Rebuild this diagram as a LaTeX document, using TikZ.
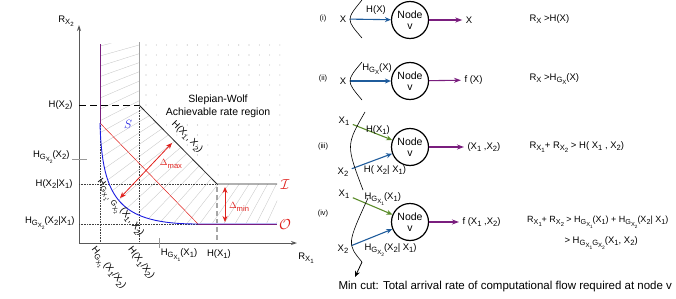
\documentclass[tikz,border=0pt]{standalone}
\usepackage{fontspec}
\setmainfont{Liberation Sans}
\usepackage{amsmath}
\usetikzlibrary{arrows.meta}
\definecolor{flowblue}{HTML}{1F5C9C}
\definecolor{flowgreen}{HTML}{5B8C2A}
\definecolor{flowpurple}{HTML}{7A1E7E}
\definecolor{deltared}{HTML}{E0201C}
\definecolor{curveblue}{HTML}{1C1CE0}
\newcommand{\sbs}[1]{\raisebox{-.5ex}{\scalebox{.8}{#1}}}

\begin{document}
\begin{tikzpicture}[x=1pt,y=1pt,font=\fontsize{9.5}{10}\selectfont,
  axis/.style={line width=1pt,black!65,-{Stealth[length=6pt,width=4pt]}},
  guide/.style={black!75,densely dotted,line width=.6pt},
  hatch/.style={gray!45,line width=.35pt},
  delta/.style={deltared,line width=.8pt,{Stealth[length=6pt,width=5pt]}-{Stealth[length=6pt,width=5pt]}},
  cnode/.style={draw,circle,line width=1.2pt,minimum size=37pt,inner sep=0pt,
               align=center,font=\fontsize{10.5}{11.5}\selectfont},
  inarrow/.style={line width=1.1pt,-{Stealth[length=6pt,width=5pt]}},
  outarrow/.style={flowpurple,line width=1.1pt,-{Stealth[length=7pt,width=5pt]}},
  mincut/.style={line width=.6pt}]
  \useasboundingbox (0,0) rectangle (676,298);
  % rate region
  \coordinate (o) at (79,55);
  \coordinate (ytop) at (79,273);
  \coordinate (xend) at (297,55);
  \coordinate (sw) at (139,193);
  \coordinate (corner) at (217,114);
  \coordinate (iend) at (277,114);
  \coordinate (cstart) at (100,175);
  \coordinate (cend) at (198,74);
  \coordinate (oend) at (277,74);
  \begin{scope}
    \clip (100,254) -- (139,256) -- (sw) -- (corner) -- (iend) -- (oend) -- (cend)
      .. controls (120,74) and (102,98) .. (cstart) -- cycle;
    \foreach \a in {190,191.9,...,254} \draw[hatch] (381,321) -- ++(\a:520);
  \end{scope}
  \begin{scope}
    \clip (139,258) -- (282,258) -- (282,117) -- (219,117) -- (139,196) -- cycle;
    \foreach \i in {0,...,13} \foreach \j in {0,...,13}
      \fill[gray!60] (146+10.3*\i,253-10*\j) circle (.55);
  \end{scope}
  \draw[axis] (o) -- (ytop);
  \draw[axis] (o) -- (xend);
  \node (rx2) at (66,277) {R\sbs{X\sbs{2}}};
  \node (rx1) at (306,40) {R\sbs{X\sbs{1}}};
  \draw[guide] (100,175) -- (100,55);
  \draw[guide] (139,193) -- (139,55);
  \draw[guide] (79,114) -- (corner);
  \draw[guide] (79,74) -- (cend);
  \draw[black,dashed,dash pattern=on 7pt off 4pt,line width=.8pt] (79,193) -- (sw);
  \draw[gray!75,line width=1pt] (139,256) -- (sw);
  \draw[black!85,line width=.8pt] (sw) -- (corner) -- (iend);
  \draw[gray!70,dashed,dash pattern=on 5pt off 3pt,line width=1.3pt] (217,111) -- (217,57);
  \draw[gray!80,line width=.8pt] (159,50) -- (159,60);
  \draw[gray!80,line width=.8pt] (72,139) -- (87,139);
  \draw[deltared,line width=.5pt] (cstart) -- (cend);
  \draw[flowpurple,line width=.9pt] (100,254) -- (cstart);
  \draw[curveblue,line width=.9pt] (cstart) .. controls (102,98) and (120,74) .. (cend);
  \draw[curveblue!30,line width=2pt] (cend) -- (oend);
  \draw[flowpurple,line width=.9pt] (cend) -- (oend);
  \coordinate (dmaxa) at (120,100);
  \coordinate (dmaxb) at (172,155);
  \draw[delta] (dmaxa) -- (dmaxb);
  \coordinate (dmina) at (225,111);
  \coordinate (dminb) at (225,76);
  \draw[delta] (dmina) -- (dminb);
  \node[deltared] (dmax) at (171,134) {$\Delta$\sbs{max}};
  \node[deltared] (dmin) at (239,91) {$\Delta$\sbs{min}};
  \node[curveblue,font=\fontsize{13}{13}\selectfont] (s) at (128,174) {$S$};
  \node[deltared,font=\fontsize{14}{14}\selectfont] (ilab) at (285,113) {$\mathcal{I}$};
  \node[deltared,font=\fontsize{14}{14}\selectfont] (olab) at (285,73) {$\mathcal{O}$};
  \node[fill=white,inner sep=1pt,align=center,font=\fontsize{10.5}{13}\selectfont]
    (sw-text) at (218,192) {Slepian-Wolf\\Achievable rate region};
  \node[rotate=-45] (hx1x2) at (187,161) {H(X\sbs{1}, X\sbs{2})};
  \node[anchor=east] (hx2) at (76,193) {H(X\sbs{2})};
  \node[anchor=east] (hgx2) at (73,141) {H\sbs{G\sbs{X\sbs{2}}}(X\sbs{2})};
  \node[anchor=east] (hx2x1) at (76,114) {H(X\sbs{2}|X\sbs{1})};
  \node[anchor=east] (hgx2x1) at (78,75) {H\sbs{G\sbs{X\sbs{2}}}(X\sbs{2}|X\sbs{1})};
  \node[rotate=-52] (hgx1x1x2) at (107,29) {H\sbs{G\sbs{X\sbs{1}}}(X\sbs{1}/X\sbs{2})};
  \node[rotate=-52] (hx1x2c) at (141,35) {H(X\sbs{1}/X\sbs{2})};
  \node (hgx1) at (179,43) {H\sbs{G\sbs{X\sbs{1}}}(X\sbs{1})};
  \node (hx1) at (219,44) {H(X\sbs{1})};
  \node[rotate=-52] (hgg) at (119,89) {H\sbs{G\sbs{X\sbs{1}}, G\sbs{X\sbs{2}}}(X\sbs{1}, X\sbs{2})};
  % (i)
  \node (c1) at (323,279) {\fontsize{7.5}{8}\selectfont(i)};
  \node[cnode] (v1) at (410,278) {Node\\v};
  \node (in1) at (343,279) {X};
  \node (out1) at (469,278) {X};
  \draw[inarrow,flowblue] (in1) -- (v1);
  \draw[outarrow] (v1) -- (out1);
  \node (l1) at (376,288) {H(X)};
  \draw[mincut] (362,298) .. controls (346,278.5) .. (362,260);
  \node[anchor=west] (r1) at (526,279) {R\sbs{X} >H(X)};
  % (ii)
  \node (c2) at (323,219) {\fontsize{7.5}{8}\selectfont(ii)};
  \node[cnode] (v2) at (410,217) {Node\\v};
  \node (in2) at (343,217) {X};
  \node[anchor=west] (out2) at (461,218) {f (X)};
  \draw[inarrow,flowblue] (in2) -- (v2);
  \draw[outarrow] (v2) -- (out2);
  \node (l2) at (377,229) {H\sbs{G\sbs{X}}(X)};
  \draw[mincut] (362,236) .. controls (346,217) .. (362,198);
  \node[anchor=west] (r2) at (526,219) {R\sbs{X} >H\sbs{G\sbs{X}}(X)};
  % (iii)
  \node (c3) at (323,151) {\fontsize{7.5}{8}\selectfont(iii)};
  \node[cnode] (v3) at (410,151) {Node\\v};
  \node (in3a) at (344,177) {X\sbs{1}};
  \node (in3b) at (343,126) {X\sbs{2}};
  \node[anchor=west] (out3) at (464,151) {(X\sbs{1} ,X\sbs{2})};
  \draw[inarrow,flowgreen] (in3a) -- (v3);
  \draw[inarrow,flowblue] (in3b) -- (v3);
  \draw[outarrow] (v3) -- (out3);
  \node (l3a) at (378,168) {H(X\sbs{1})};
  \node (l3b) at (385,128) {H( X\sbs{2}| X\sbs{1})};
  \draw[mincut] (365,186) .. controls (346,153) .. (363,108);
  \node[anchor=west] (r3) at (526,151) {R\sbs{X\sbs{1}}+ R\sbs{X\sbs{2}} > H( X\sbs{1} , X\sbs{2})};
  % (iv)
  \node (c4) at (323,84) {\fontsize{7.5}{8}\selectfont(iv)};
  \node[cnode] (v4) at (410,76) {Node\\v};
  \node (in4a) at (344,104) {X\sbs{1}};
  \node (in4b) at (343,49) {X\sbs{2}};
  \node[anchor=west] (out4) at (459,76) {f (X\sbs{1} ,X\sbs{2})};
  \draw[inarrow,flowgreen] (in4a) -- (v4);
  \draw[inarrow,flowblue] (in4b) -- (v4);
  \draw[outarrow] (v4) -- (out4);
  \node[anchor=west] (l4a) at (361,99) {H\sbs{G\sbs{X\sbs{1}}}(X\sbs{1})};
  \node[anchor=west] (l4b) at (361,48) {H\sbs{G\sbs{X\sbs{2}}}(X\sbs{2}| X\sbs{1})};
  \coordinate (cutend) at (362,36);
  \coordinate (cuttip) at (355,21);
  \draw[mincut] (368,100) .. controls (347,54) .. (cutend);
  \draw[mincut,line width=.8pt,-{Stealth[length=6pt,width=5pt]}] (cutend) -- (cuttip);
  \node[anchor=west,inner sep=1pt,font=\fontsize{9}{10}\selectfont] (r4a) at (526,76)
    {R\sbs{X\sbs{1}}+ R\sbs{X\sbs{2}} > H\sbs{G\sbs{X\sbs{1}}}(X\sbs{1}) + H\sbs{G\sbs{X\sbs{2}}}(X\sbs{2}| X\sbs{1})};
  \node[anchor=west] (r4b) at (561,55) {> H\sbs{G\sbs{X\sbs{1}}G\sbs{X\sbs{2}}}(X\sbs{1}, X\sbs{2})};
  \node[anchor=west,font=\fontsize{11.5}{12}\selectfont] (cut) at (335,11)
    {Min cut: Total arrival rate of computational flow required at node v};
\end{tikzpicture}
\end{document}
